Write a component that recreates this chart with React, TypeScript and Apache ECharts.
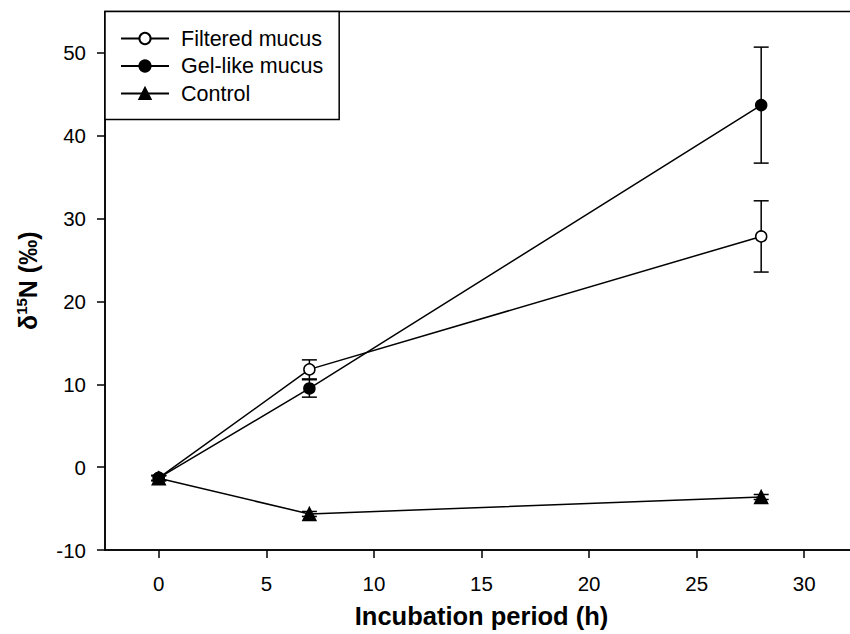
import React, { useEffect, useRef } from "react";
import * as echarts from "echarts";

// Incubation time points (h)
const hours = [0, 7, 28];

// δ15N means and error half-widths (‰)
const filtered = [-1.3, 11.8, 27.85];
const filteredErr = [0.3, 1.15, 4.3];
const gel = [-1.3, 9.5, 43.7];
const gelErr = [0.3, 1.05, 7.0];
const control = [-1.35, -5.65, -3.6];
const controlErr = [0.3, 0.3, 0.3];

const xTicks = [0, 5, 10, 15, 20, 25, 30];
const yTicks = [-10, 0, 10, 20, 30, 40, 50];

const FONT = "'Liberation Sans', Arial, sans-serif";

function errorBars(name: string, vals: number[], errs: number[]) {
  return {
    type: "custom",
    name: name + " error",
    silent: true,
    z: 1,
    data: hours.map((h, i) => [h, vals[i] - errs[i], vals[i] + errs[i]]),
    encode: { x: 0, y: [1, 2] },
    renderItem: (_params: any, api: any) => {
      const x = api.value(0);
      const lo = api.coord([x, api.value(1)]);
      const hi = api.coord([x, api.value(2)]);
      const hw = 7.5;
      const st = { stroke: "#000", lineWidth: 1.5 };
      return {
        type: "group",
        children: [
          { type: "line", shape: { x1: lo[0], y1: lo[1], x2: hi[0], y2: hi[1] }, style: st },
          { type: "line", shape: { x1: lo[0] - hw, y1: lo[1], x2: lo[0] + hw, y2: lo[1] }, style: st },
          { type: "line", shape: { x1: hi[0] - hw, y1: hi[1], x2: hi[0] + hw, y2: hi[1] }, style: st },
        ],
      };
    },
  };
}

function lineSeries(name: string, vals: number[], symbol: string, fill: string, size: number, z: number) {
  return {
    type: "line",
    name,
    data: hours.map((h, i) => [h, vals[i]]),
    symbol,
    symbolSize: size,
    showAllSymbol: true,
    lineStyle: { color: "#000", width: 1.5 },
    itemStyle: { color: fill, borderColor: "#000", borderWidth: 1.5, opacity: 1 },
    emphasis: { disabled: true },
    z,
  };
}

export default function App() {
  const ref = useRef<HTMLDivElement>(null);

  useEffect(() => {
    if (!ref.current) return;
    const chart = echarts.init(ref.current, undefined, { renderer: "svg" });
    chart.setOption({
      animation: false,
      backgroundColor: "#fff",
      textStyle: { fontFamily: FONT, color: "#000" },
      grid: {
        left: 105,
        top: 11.5,
        right: 0,
        bottom: 80.5,
        show: true,
        borderColor: "#000",
        borderWidth: 1.5,
        backgroundColor: "transparent",
      },
      legend: {
        left: 105,
        top: 11.5,
        orient: "vertical",
        data: ["Filtered mucus", "Gel-like mucus", "Control"],
        backgroundColor: "#fff",
        borderColor: "#000",
        borderWidth: 1.5,
        borderRadius: 0,
        padding: [16, 16, 15, 15],
        itemWidth: 48,
        itemHeight: 14,
        itemGap: 5.5,
        textStyle: { fontFamily: FONT, fontSize: 21.5, color: "#000", padding: [0, 0, 0, 7] },
        selectedMode: false,
      },
      xAxis: {
        type: "value",
        min: -2.5,
        max: 32.5,
        name: "Incubation period (h)",
        nameLocation: "middle",
        nameGap: 53,
        nameTextStyle: { fontFamily: FONT, fontSize: 25.5, fontWeight: "bold", color: "#000" },
        axisLine: { show: true, onZero: false, lineStyle: { color: "#000", width: 1.5 } },
        axisTick: { show: true, inside: false, length: 8, customValues: xTicks, lineStyle: { color: "#000", width: 1.5 } },
        axisLabel: { customValues: xTicks, fontFamily: FONT, fontSize: 20.5, color: "#000", margin: 23 },
        splitLine: { show: false },
      },
      yAxis: {
        type: "value",
        min: -10,
        max: 55,
        name: "{a|δ}{s|15}{a|N (‰)}",
        nameLocation: "middle",
        nameGap: 63,
        nameRotate: 90,
        nameTextStyle: {
          fontFamily: FONT,
          color: "#000",
          rich: {
            a: { fontFamily: FONT, fontSize: 25, fontWeight: "bold", color: "#000", lineHeight: 28 },
            s: { fontFamily: FONT, fontSize: 15, fontWeight: "bold", color: "#000", lineHeight: 28, verticalAlign: "top" },
          },
        },
        axisLine: { show: true, onZero: false, lineStyle: { color: "#000", width: 1.5 } },
        axisTick: { show: true, inside: false, length: 8, customValues: yTicks, lineStyle: { color: "#000", width: 1.5 } },
        axisLabel: { customValues: yTicks, fontFamily: FONT, fontSize: 20.5, color: "#000", margin: 19 },
        splitLine: { show: false },
      },
      series: [
        errorBars("Filtered mucus", filtered, filteredErr),
        errorBars("Gel-like mucus", gel, gelErr),
        errorBars("Control", control, controlErr),
        lineSeries("Control", control, "triangle", "#000", 13, 3),
        lineSeries("Filtered mucus", filtered, "circle", "#fff", 11, 4),
        lineSeries("Gel-like mucus", gel, "circle", "#000", 11, 5),
      ],
    });
    return () => chart.dispose();
  }, []);

  // The plot box runs a few pixels past the right edge of the window
  return (
    <div
      ref={ref}
      style={{ position: "fixed", left: 0, top: 0, width: 858, height: 634, background: "#fff" }}
    />
  );
}
